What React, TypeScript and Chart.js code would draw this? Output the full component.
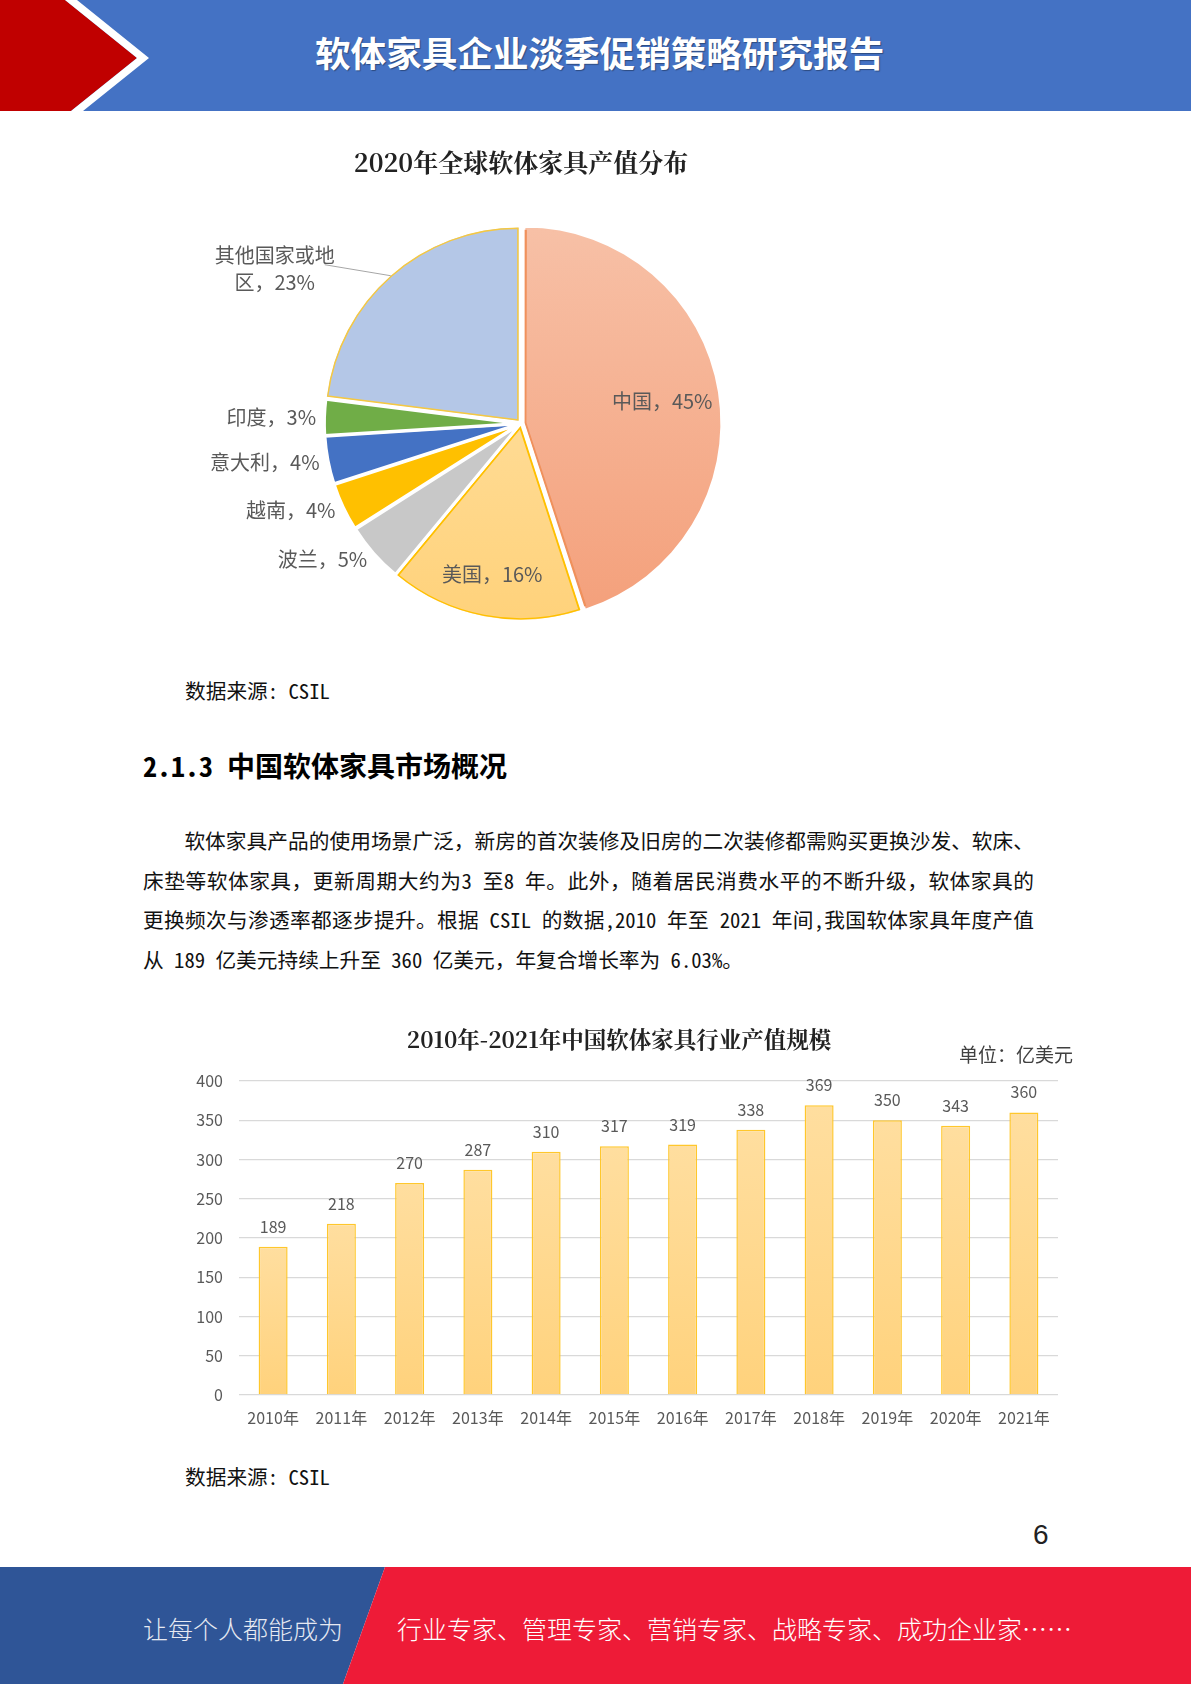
import React, { useEffect, useRef } from 'react';
import { Chart, registerables } from 'chart.js';

Chart.register(...registerables);

// ---------- data ----------
const pieCategories = ['中国', '美国', '波兰', '越南', '意大利', '印度', '其他国家或地区'];
const pieShares = [45, 16, 5, 4, 4, 3, 23];

const barYears = ['2010年', '2011年', '2012年', '2013年', '2014年', '2015年', '2016年', '2017年', '2018年', '2019年', '2020年', '2021年'];
const barValues = [189, 218, 270, 287, 310, 317, 319, 338, 369, 350, 343, 360];
const yTickMin = 0;
const yTickMax = 400;
const yTickStep = 50;

// ---------- styles ----------
const SANS = '"Noto Sans CJK SC", "Noto Sans", sans-serif';
const SERIF = '"Noto Serif CJK SC", "Noto Sans CJK SC", serif';
const MONO_CJK = '"Noto Sans Mono CJK SC", "Noto Sans CJK SC", sans-serif';

const PIE_RADIUS = 193;
const pieFill = ['#F5AE8F', '#FFD88C', '#C8C8C8', '#FFC000', '#4472C4', '#70AD47', '#B4C7E7'];
const pieGradStops: (string[] | null)[] = [
  ['#F7C0A6', '#F4A07B'],
  ['#FFE4AC', '#FFD27B'],
  null, null, null, null, null,
];
const pieBorderColors = ['#F0915C', '#FFC000', '#FFFFFF', '#FFFFFF', '#FFFFFF', '#FFFFFF', '#F5C842'];
const pieBorderWidths = [1.5, 1.5, 3, 3, 3, 3, 1.2];
const pieBorderAligns = ['inner', 'inner', 'center', 'center', 'center', 'center', 'inner'];
const pieOffsets = [16, 12, 8, 8, 8, 8, 16];
const pieLabelLayout: any[] = [
  { mode: 'inside', k: 0.72 },
  { mode: 'inside', k: 0.78 },
  { mode: 'outside', gap: 10 },
  { mode: 'outside', gap: 10 },
  { mode: 'outside', gap: 10 },
  { mode: 'outside', gap: 10 },
  { mode: 'callout', dx: -66, dy: -11, tx: -50, ty: 4, wrap: 6, lh: 27 },
];

const pieLabelPlugin = {
  id: 'pieLabels',
  afterDatasetsDraw(chart: any) {
    const ctx = chart.ctx;
    const meta = chart.getDatasetMeta(0);
    const ds = chart.data.datasets[0];
    ctx.save();
    ctx.font = `20px ${SANS}`;
    ctx.fillStyle = '#595959';
    meta.data.forEach((arc: any, i: number) => {
      const { x, y, startAngle, endAngle, outerRadius } = arc.getProps(['x', 'y', 'startAngle', 'endAngle', 'outerRadius'], true);
      const mid = (startAngle + endAngle) / 2;
      const cos = Math.cos(mid);
      const sin = Math.sin(mid);
      const t = (arc.options.offset || 0) / 4;
      const text = `${chart.data.labels[i]}，${ds.data[i]}%`;
      const lay = pieLabelLayout[i];
      if (lay.mode === 'inside') {
        const d = t + lay.k * outerRadius;
        ctx.textAlign = 'center';
        ctx.textBaseline = 'middle';
        ctx.fillText(text, x + cos * d, y + sin * d);
      } else if (lay.mode === 'outside') {
        const d = t + outerRadius + lay.gap;
        ctx.textAlign = cos < 0 ? 'right' : 'left';
        ctx.textBaseline = 'middle';
        ctx.fillText(text, x + cos * d, y + sin * d);
      } else {
        const d = t + outerRadius;
        const px = x + cos * d;
        const py = y + sin * d;
        const lx = px + lay.dx;
        const ly = py + lay.dy;
        ctx.strokeStyle = '#A6A6A6';
        ctx.lineWidth = 1;
        ctx.beginPath();
        ctx.moveTo(px, py);
        ctx.lineTo(lx, ly);
        ctx.stroke();
        const lines = [text.slice(0, lay.wrap), text.slice(lay.wrap)];
        ctx.textAlign = 'center';
        ctx.textBaseline = 'middle';
        const cx = lx + lay.tx;
        const cy = ly + lay.ty;
        ctx.fillText(lines[0], cx, cy - lay.lh / 2);
        ctx.fillText(lines[1], cx, cy + lay.lh / 2);
      }
    });
    ctx.restore();
  },
};

const barLabelPlugin = {
  id: 'barLabels',
  afterDatasetsDraw(chart: any) {
    const ctx = chart.ctx;
    const meta = chart.getDatasetMeta(0);
    const ds = chart.data.datasets[0];
    ctx.save();
    ctx.font = `16px ${SANS}`;
    ctx.fillStyle = '#595959';
    ctx.textAlign = 'center';
    ctx.textBaseline = 'middle';
    meta.data.forEach((bar: any, i: number) => {
      ctx.fillText(String(ds.data[i]), bar.x, bar.y - 20);
    });
    ctx.restore();
  },
};

function PieChart() {
  const ref = useRef<HTMLCanvasElement>(null);
  useEffect(() => {
    const chart = new Chart(ref.current as HTMLCanvasElement, {
      type: 'pie',
      data: {
        labels: pieCategories,
        datasets: [
          {
            data: pieShares,
            backgroundColor: (c: any) => {
              const i = c.dataIndex;
              const stops = pieGradStops[i];
              const area = c.chart.chartArea;
              if (c.type !== 'data' || !area || !stops) return pieFill[i] ?? pieFill[0];
              const cy = (area.top + area.bottom) / 2;
              const g = c.chart.ctx.createLinearGradient(0, cy - PIE_RADIUS, 0, cy + PIE_RADIUS);
              g.addColorStop(0, stops[0]);
              g.addColorStop(1, stops[1]);
              return g;
            },
            borderColor: pieBorderColors,
            borderWidth: pieBorderWidths,
            borderAlign: pieBorderAligns,
            offset: pieOffsets,
            radius: PIE_RADIUS,
          } as any,
        ],
      },
      options: {
        animation: false,
        responsive: true,
        maintainAspectRatio: false,
        layout: { padding: 0 },
        plugins: {
          legend: { display: false },
          tooltip: { enabled: false },
          title: {
            display: true,
            text: '2020年全球软体家具产值分布',
            color: '#222222',
            font: { family: SERIF, size: 25, weight: 'bold' },
            padding: { top: 17, bottom: 10 },
          },
        },
      } as any,
      plugins: [pieLabelPlugin],
    });
    return () => chart.destroy();
  }, []);
  return (
    <div style={{ position: 'absolute', left: 181, top: 130, width: 680, height: 530 }}>
      <canvas ref={ref} />
    </div>
  );
}

function BarChart() {
  const ref = useRef<HTMLCanvasElement>(null);
  useEffect(() => {
    const chart = new Chart(ref.current as HTMLCanvasElement, {
      type: 'bar',
      data: {
        labels: barYears,
        datasets: [
          {
            data: barValues,
            backgroundColor: (c: any) => {
              const chart = c.chart;
              const area = chart.chartArea;
              if (c.type !== 'data' || !area || !chart.scales.y) return '#FFD88C';
              const top = chart.scales.y.getPixelForValue(c.raw);
              const base = chart.scales.y.getPixelForValue(0);
              const g = chart.ctx.createLinearGradient(0, top, 0, base);
              g.addColorStop(0, '#FFDE9F');
              g.addColorStop(1, '#FFD27C');
              return g;
            },
            borderColor: '#FFC72C',
            borderWidth: 1.5,
            barPercentage: 0.85,
            categoryPercentage: 0.5,
          } as any,
        ],
      },
      options: {
        animation: false,
        responsive: true,
        maintainAspectRatio: false,
        layout: { padding: { left: 0, right: 22, top: 0, bottom: 0 } },
        plugins: {
          legend: { display: false },
          tooltip: { enabled: false },
          title: {
            display: true,
            text: '2010年-2021年中国软体家具行业产值规模',
            color: '#222222',
            font: { family: SERIF, size: 22.5, weight: 'bold' },
            padding: { top: 15.5, bottom: 28.5 },
          },
        },
        scales: {
          x: {
            grid: { display: false, drawTicks: false },
            border: { display: false },
            ticks: { color: '#595959', font: { family: SANS, size: 16 }, padding: 13 },
            afterFit: (s: any) => {
              s.height = 45;
            },
          },
          y: {
            min: yTickMin,
            max: yTickMax,
            ticks: { stepSize: yTickStep, color: '#595959', font: { family: SANS, size: 16 }, padding: 16 },
            grid: { color: '#D9D9D9', lineWidth: 1.3, drawTicks: false },
            border: { display: false },
            afterFit: (s: any) => {
              s.width = 59;
            },
          },
        },
      } as any,
      plugins: [barLabelPlugin],
    });
    return () => chart.destroy();
  }, []);
  return (
    <div style={{ position: 'absolute', left: 180, top: 1010, width: 900, height: 430 }}>
      <canvas ref={ref} />
    </div>
  );
}

const abs = (left: number, centerY: number, lh: number): React.CSSProperties => ({
  position: 'absolute',
  left,
  top: centerY - lh / 2,
  lineHeight: `${lh}px`,
  whiteSpace: 'nowrap',
});

const paraLines = [
  '软体家具产品的使用场景广泛，新房的首次装修及旧房的二次装修都需购买更换沙发、软床、',
  '床垫等软体家具，更新周期大约为3 至8 年。此外，随着居民消费水平的不断升级，软体家具的',
  '更换频次与渗透率都逐步提升。根据 CSIL 的数据,2010 年至 2021 年间,我国软体家具年度产值',
  '从 189 亿美元持续上升至 360 亿美元，年复合增长率为 6.03%。',
];
const paraCenters = [840, 879.5, 919, 958.5];

export default function App() {
  return (
    <div
      style={{
        position: 'absolute',
        left: 0,
        top: 0,
        width: 1191,
        height: 1684,
        overflow: 'hidden',
        background: '#ffffff',
        fontFamily: SANS,
      }}
    >
      {/* header */}
      <svg width={1191} height={111} style={{ position: 'absolute', left: 0, top: 0 }}>
        <rect x={0} y={0} width={1191} height={111} fill="#4472C4" />
        <polygon points="0,0 65,0 137,58 71,111 0,111" fill="#C00000" />
        <polygon points="65,0 77,0 149,58 83,111 71,111 137,58" fill="#FFFFFF" />
      </svg>
      <div
        style={{
          ...abs(315, 52, 50),
          fontSize: 35.6,
          fontWeight: 700,
          color: '#FFFFFF',
          textShadow: '1px 1px 1px rgba(0,0,0,0.35)',
        }}
      >
        软体家具企业淡季促销策略研究报告
      </div>

      <PieChart />

      <div style={{ ...abs(185, 690, 28), fontFamily: MONO_CJK, fontSize: 20.7, color: '#111' }}>数据来源: CSIL</div>

      <div style={{ ...abs(143, 765, 36), fontFamily: MONO_CJK, fontSize: 28, fontWeight: 700, color: '#000' }}>
        2.1.3 中国软体家具市场概况
      </div>

      {paraLines.map((line, i) => (
        <div
          key={i}
          style={{
            ...abs(143, paraCenters[i], 28),
            width: 891,
            fontFamily: MONO_CJK,
            fontSize: 20.7,
            color: '#111',
            textIndent: i === 0 ? '2em' : 0,
            textAlign: i < 3 ? 'justify' : 'left',
            textAlignLast: i < 3 ? 'justify' : 'left',
          } as React.CSSProperties}
        >
          {line}
        </div>
      ))}

      <BarChart />
      <div style={{ ...abs(959, 1054, 26), fontSize: 19, color: '#404040' }}>单位：亿美元</div>

      <div style={{ ...abs(185, 1476, 28), fontFamily: MONO_CJK, fontSize: 20.7, color: '#111' }}>数据来源: CSIL</div>

      <div style={{ ...abs(1033, 1535, 32), fontFamily: '"Liberation Sans", sans-serif', fontSize: 28, color: '#222' }}>6</div>

      {/* footer */}
      <svg width={1191} height={117} style={{ position: 'absolute', left: 0, top: 1567 }}>
        <polygon points="0,0 385,0 343,117 0,117" fill="#2F5597" />
        <polygon points="385,0 1191,0 1191,117 343,117" fill="#EE1B37" />
      </svg>
      <div style={{ ...abs(143, 1628, 34), fontSize: 25, fontWeight: 300, color: '#E6E9F2' }}>让每个人都能成为</div>
      <div style={{ ...abs(397, 1628, 34), fontSize: 25, fontWeight: 300, color: '#FFFFFF' }}>
        行业专家、管理专家、营销专家、战略专家、成功企业家……
      </div>
    </div>
  );
}
